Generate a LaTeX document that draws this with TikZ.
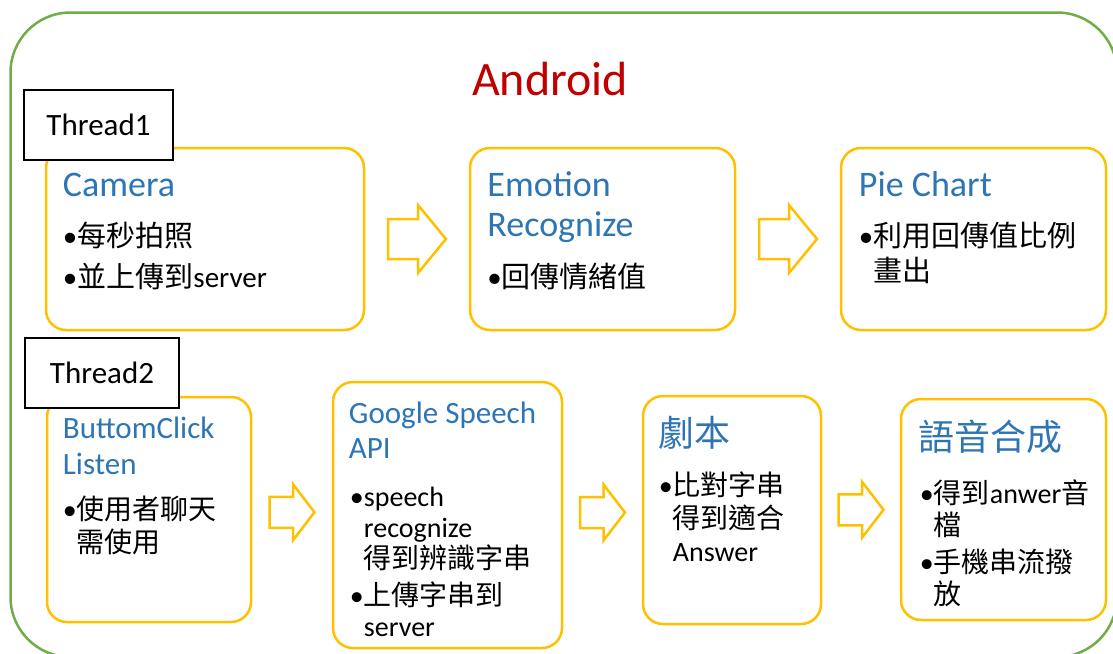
\documentclass[tikz,border=0pt]{standalone}
\usepackage{fontspec}
\setmainfont{Carlito}
\newfontfamily\cjk{Noto Sans CJK TC}
\usetikzlibrary{calc}

\definecolor{frame}{HTML}{70AD47}
\definecolor{gold}{HTML}{FFC000}
\definecolor{head}{HTML}{2E75B6}
\definecolor{droid}{HTML}{C00000}

\newcommand\bul{\makebox[0.5em][l]{\textbullet}}
\newcommand\indt{\hspace*{0.5em}}
% block arrow at a named coordinate: half length, head length, half shaft, half head
\newcommand\flowarrow[5]{\draw[flow, shift={(#1)}] (-#2,-#4) -- ({#2-#3},-#4) -- ({#2-#3},-#5) -- (#2,0) -- ({#2-#3},#5) -- ({#2-#3},#4) -- (-#2,#4) -- cycle;}

\begin{document}
\begin{tikzpicture}[x=1pt, y=-1pt,
  stage/.style={draw=gold, line width=2.5pt, rounded corners=20pt, fill=white},
  thread/.style={draw, line width=1.5pt, fill=white, minimum width=149pt, minimum height=70pt, font=\fontsize{31}{36}\selectfont},
  title/.style={anchor=base west, inner sep=0pt, align=left, text=head, font=\fontsize{36}{40}\selectfont},
  title2/.style={title, font=\fontsize{31}{36}\selectfont},
  body/.style={anchor=base west, inner sep=0pt, align=left, font=\fontsize{29}{35}\selectfont},
  body2/.style={body, font=\fontsize{28}{33}\selectfont},
  flow/.style={draw=gold, line width=2.5pt, fill=white, line join=miter}]
\useasboundingbox (0,0) rectangle (1113,653);
\draw[frame, line width=2.5pt, rounded corners=60pt] (10.5,12.5) rectangle (1117,657);
\node[text=droid, font=\fontsize{48}{56}\selectfont, anchor=base] (os) at (550,95) {Android};

% Thread1
\node[stage, minimum width=318pt, minimum height=182pt] (cam) at (205,239) {};
\node[stage, minimum width=265pt, minimum height=182pt] (emo) at (602.5,239) {};
\node[stage, minimum width=265pt, minimum height=182pt] (pie) at (973.5,239) {};
\node[thread] (t1) at (98.5,125) {Thread1};

% multi-line nodes sit on their last baseline
\node[title] (camT) at ([shift={(18,50)}]cam.north west) {Camera};
\node[body] (camB) at ([shift={(18,141)}]cam.north west) {\bul{\cjk 每秒拍照}\\[6pt]\bul{\cjk 並上傳到}server};
\node[title] (emoT) at ([shift={(18.5,90)}]emo.north west) {Emotion\\Recognize};
\node[body] (emoB) at ([shift={(18.5,141)}]emo.north west) {\bul{\cjk 回傳情緒值}};
\node[title] (pieT) at ([shift={(19,50)}]pie.north west) {Pie Chart};
\node[body] (pieB) at ([shift={(19,135)}]pie.north west) {\bul{\cjk 利用回傳值比例}\\\indt{\cjk 畫出}};

\coordinate (a1) at ($(cam.east)!0.5!(emo.west)$);
\coordinate (a2) at ($(emo.east)!0.5!(pie.west)$);
\flowarrow{a1}{29}{28}{20}{34}
\flowarrow{a2}{29}{28}{20}{34}

% Thread2
\node[stage, minimum width=204pt, minimum height=225pt] (btn) at (149,509.5) {};
\node[stage, minimum width=229pt, minimum height=266pt] (gsa) at (447.5,515) {};
\node[stage, minimum width=178pt, minimum height=228pt] (scr) at (732,510) {};
\node[stage, minimum width=205pt, minimum height=221pt] (tts) at (1003.5,509.5) {};
\node[thread, minimum width=154pt] (t2) at (102,373) {Thread2};

\node[title2] (btnT) at ([shift={(17,79)}]btn.north west) {ButtomClick\\Listen};
\node[body2] (btnB) at ([shift={(17,157)}]btn.north west) {\bul{\cjk 使用者聊天}\\\indt{\cjk 需使用}};
\node[title2, font=\fontsize{31}{35}\selectfont] (gsaT) at ([shift={(17,78)}]gsa.north west) {Google Speech\\API};
\node[body2, font=\fontsize{28}{31}\selectfont] (gsaB) at ([shift={(18,256)}]gsa.north west)
  {\bul speech\\\indt recognize\\\indt{\cjk 得到辨識字串}\\[6pt]\bul{\cjk 上傳字串到}\\\indt server};
\node[title, font=\fontsize{36}{40}\selectfont\cjk] (scrT) at ([shift={(17,52)}]scr.north west) {劇本};
\node[body2] (scrB) at ([shift={(17,167)}]scr.north west) {\bul{\cjk 比對字串}\\\indt{\cjk 得到適合}\\\indt Answer};
\node[title, font=\fontsize{36}{40}\selectfont\cjk] (ttsT) at ([shift={(19,53)}]tts.north west) {語音合成};
\node[body2, font=\fontsize{28}{32}\selectfont] (ttsB) at ([shift={(20,207)}]tts.north west)
  {\bul{\cjk 得到}anwer{\cjk 音}\\\indt{\cjk 檔}\\[5pt]\bul{\cjk 手機串流撥}\\\indt{\cjk 放}};

\coordinate (a3) at ($(btn.east)!0.5!(gsa.west)$);
\coordinate (a4) at ($(gsa.east)!0.5!(scr.west)$);
\coordinate (a5) at ($(scr.east)!0.5!(tts.west)$);
\flowarrow{a3}{22.5}{21.5}{15.5}{28}
\flowarrow{a4}{22.5}{21.5}{15.5}{28}
\flowarrow{a5}{22.5}{21.5}{15.5}{28}
\end{tikzpicture}
\end{document}
